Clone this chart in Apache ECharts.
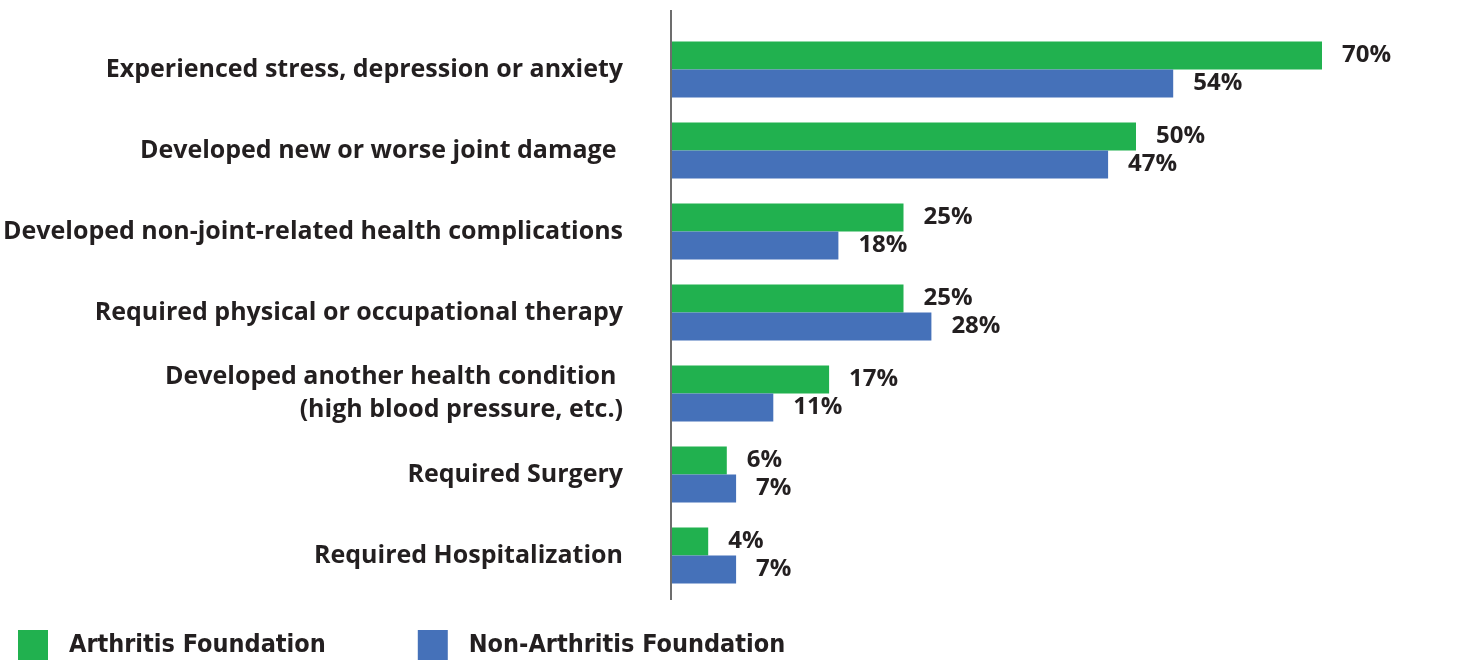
<!DOCTYPE html>
<html>
<head>
<meta charset="utf-8">
<script src="https://cdn.jsdelivr.net/npm/echarts@6/dist/echarts.min.js"></script>
<style>
  html, body { margin: 0; padding: 0; background: #fff; }
  #chart { width: 1457px; height: 660px; }
</style>
</head>
<body>
<div id="chart"></div>
<script>
// categories, top to bottom
const categories = [
  'Experienced stress, depression or anxiety',
  'Developed new or worse joint damage ',
  'Developed non-joint-related health complications',
  'Required physical or occupational therapy',
  'Developed another health condition \n(high blood pressure, etc.)',
  'Required Surgery',
  'Required Hospitalization'
]
const seriesNames = ['Arthritis Foundation', 'Non-Arthritis Foundation']
const arthritisFoundation = [70, 50, 25, 25, 17, 6, 4]
const nonArthritisFoundation = [54, 47, 18, 28, 11, 7, 7]

const GREEN = '#21b14f'
const BLUE = '#4571b9'
const TEXT = '#231f20'
const FONT = '"Open Sans", "DejaVu Sans", sans-serif'

const chart = echarts.init(document.getElementById('chart'))

const labelStyle = {
  show: true,
  position: 'right',
  distance: 20,
  color: TEXT,
  fontFamily: FONT,
  fontWeight: 'bold',
  fontSize: 24,
  formatter: '{c}%'
}

chart.setOption({
  backgroundColor: '#fff',
  animation: false,
  legend: {
    data: seriesNames,
    left: 18,
    bottom: 0,
    padding: 0,
    icon: 'rect',
    itemWidth: 30,
    itemHeight: 30,
    itemGap: 92,
    textStyle: {
      color: TEXT,
      fontFamily: '"Liberation Sans Narrow", "DejaVu Sans Condensed", sans-serif',
      fontWeight: 'bold',
      fontSize: 25,
      padding: [0, 0, 0, 16]
    }
  },
  grid: { left: 671, right: 42, top: 29, height: 567 },
  xAxis: {
    type: 'value',
    min: 0,
    max: 80,
    show: false
  },
  yAxis: {
    type: 'category',
    data: categories,
    inverse: true,
    axisLine: { show: false },
    axisTick: { show: false },
    axisLabel: {
      margin: 48,
      color: TEXT,
      fontFamily: FONT,
      fontWeight: 'bold',
      fontSize: 25,
      lineHeight: 33,
      padding: [8, 0, 0, 0],
      align: 'right'
    }
  },
  series: [
    {
      name: seriesNames[0],
      type: 'bar',
      data: arthritisFoundation,
      barWidth: 28,
      barGap: '0%',
      itemStyle: { color: GREEN },
      label: labelStyle
    },
    {
      name: seriesNames[1],
      type: 'bar',
      data: nonArthritisFoundation,
      barWidth: 28,
      barGap: '0%',
      itemStyle: { color: BLUE },
      label: labelStyle
    }
  ],
  graphic: [{
    type: 'line',
    shape: { x1: 671, y1: 10, x2: 671, y2: 600 },
    style: { stroke: '#6d6d6d', lineWidth: 2 },
    z: 10
  }]
})
</script>
</body>
</html>
